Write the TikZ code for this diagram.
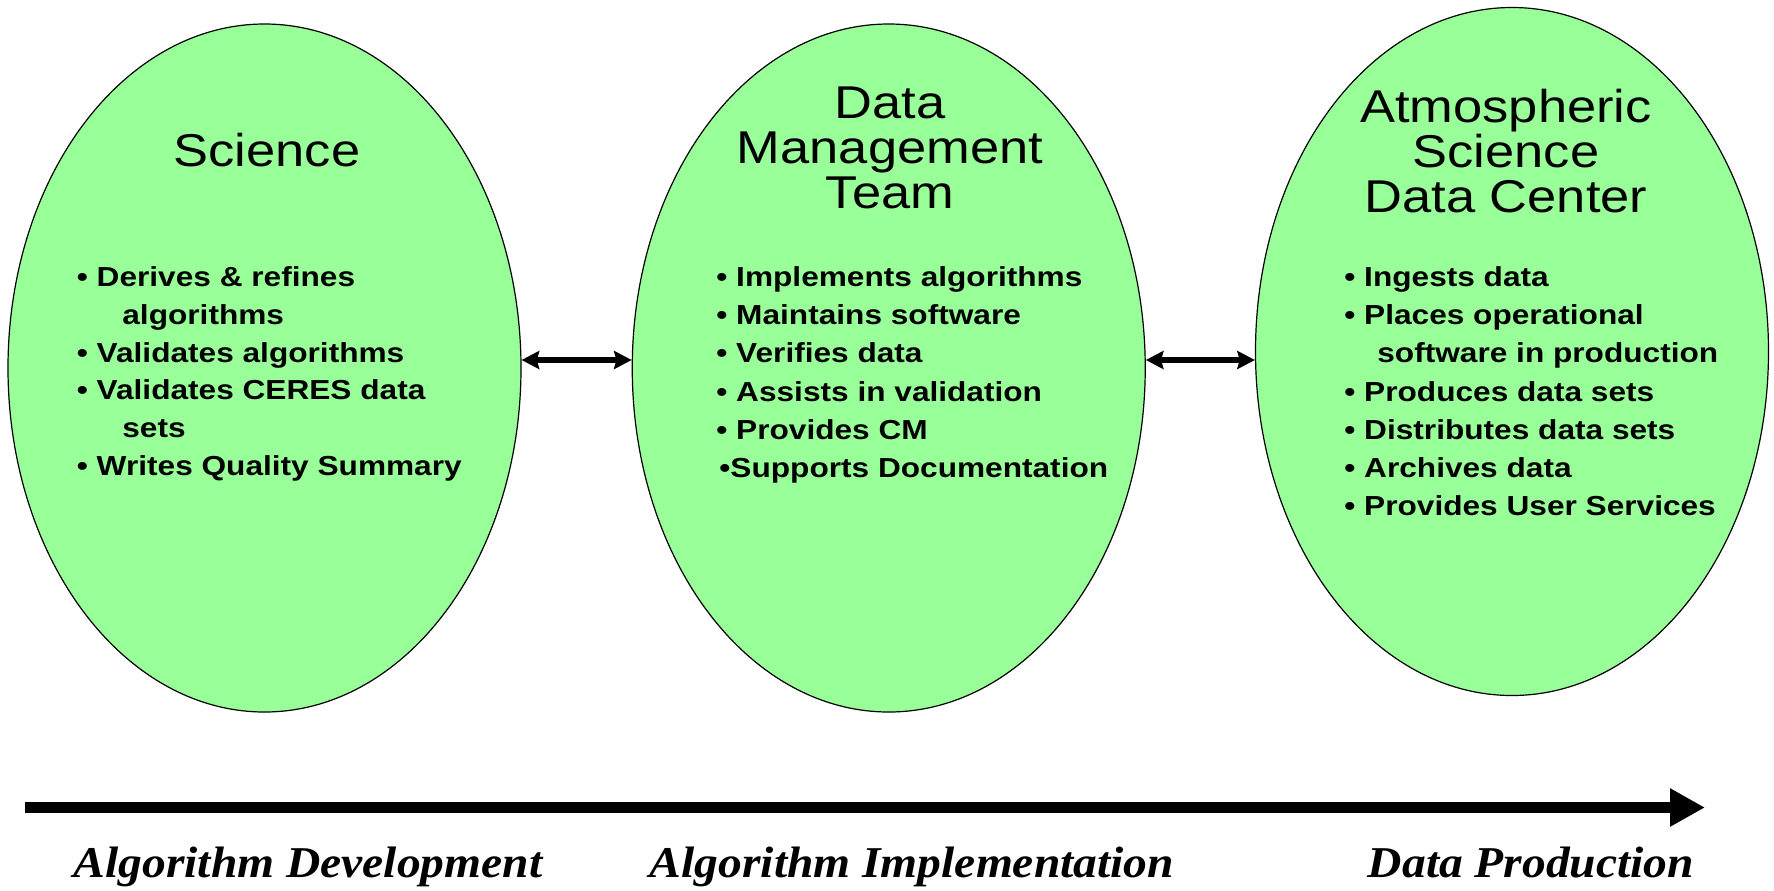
\documentclass[tikz,border=0pt]{standalone}
\usepackage{fontspec}
\usetikzlibrary{shapes.geometric,arrows.meta}
\newfontfamily\ttlfont[FakeStretch=1.14]{Liberation Sans}
\newfontfamily\bltfont[FakeStretch=1.15]{Liberation Sans}
\newfontfamily\phsfont[FakeStretch=1.08]{Liberation Serif}
\definecolor{ovalgreen}{RGB}{153,255,153}
\tikzset{
  oval/.style={ellipse, draw=black, line width=0.6pt, fill=ovalgreen, inner sep=0pt,
    minimum width=256.5pt, minimum height=344pt},
  ttl/.style={inner sep=0pt, anchor=base, font=\ttlfont\fontsize{23pt}{23pt}\selectfont},
  blt/.style={inner sep=0pt, anchor=base west, font=\bltfont\bfseries\fontsize{13.75pt}{14pt}\selectfont},
  phase/.style={inner sep=0pt, anchor=base, font=\phsfont\bfseries\itshape\fontsize{22pt}{22pt}\selectfont},
  link/.style={line width=2.6pt,
    {Stealth[length=8.8pt,width=9pt,inset=1.2pt]}-{Stealth[length=8.8pt,width=9pt,inset=1.2pt]}},
  timeline/.style={line width=5.5pt, -{Triangle[length=17.5pt,width=18pt]}}
}
\begin{document}
\begin{tikzpicture}[x=0.5pt,y=-0.5pt]
\fill[white] (0,0) rectangle (1774,890);
\useasboundingbox (0,0) rectangle (1774,890);

% ovals
\node[oval] (sci) at (264.5,368) {};
\node[oval] (dmt) at (888.75,368) {};
\node[oval] (asdc) at (1512,351.5) {};

% connectors between ovals
\draw[link] ([yshift=4pt]sci.east) -- ([yshift=4pt]dmt.west);
\draw[link] ([yshift=4pt]dmt.east) -- ([yshift=-4.25pt]asdc.west);

% titles
\node[ttl] (sciT) at (267,166) {Science};
\node[ttl] (dmtT1) at (890,118) {Data};
\node[ttl] (dmtT2) at (890,163) {Management};
\node[ttl] (dmtT3) at (890,208) {Team};
\node[ttl] (asdcT1) at (1506,122) {Atmospheric};
\node[ttl] (asdcT2) at (1506,167) {Science};
\node[ttl] (asdcT3) at (1506,212) {Data Center};

% Science bullets
\node[blt] (s1) at (76.5,286) {• Derives \& refines};
\node[blt] (s1b) at (122,324.5) {algorithms};
\node[blt] (s2) at (76.5,362) {• Validates algorithms};
\node[blt] (s3) at (76.5,399.5) {• Validates CERES data};
\node[blt] (s3b) at (122,437) {sets};
\node[blt] (s4) at (76.5,475) {• Writes Quality Summary};

% DMT bullets
\node[blt] (d1) at (716,286) {• Implements algorithms};
\node[blt] (d2) at (716,324.3) {• Maintains software};
\node[blt] (d3) at (716,362.6) {• Verifies data};
\node[blt] (d4) at (716,401) {• Assists in validation};
\node[blt] (d5) at (716,439.2) {• Provides CM};
\node[blt] (d6) at (719,477.5) {•Supports Documentation};

% ASDC bullets
\node[blt] (a1) at (1344,286) {• Ingests data};
\node[blt] (a2) at (1344,324.3) {• Places operational};
\node[blt] (a2b) at (1377,362.6) {software in production};
\node[blt] (a3) at (1344,401) {• Produces data sets};
\node[blt] (a4) at (1344,439.2) {• Distributes data sets};
\node[blt] (a5) at (1344,477.5) {• Archives data};
\node[blt] (a6) at (1344,515.8) {• Provides User Services};

% timeline
\coordinate (tlS) at (25,807.5);
\coordinate (tlE) at (1705,807.5);
\draw[timeline] (tlS) -- (tlE);

\node[phase] (p1) at (308,877) {Algorithm Development};
\node[phase] (p2) at (912,877) {Algorithm Implementation};
\node[phase] (p3) at (1531,877) {Data Production};
\end{tikzpicture}
\end{document}
